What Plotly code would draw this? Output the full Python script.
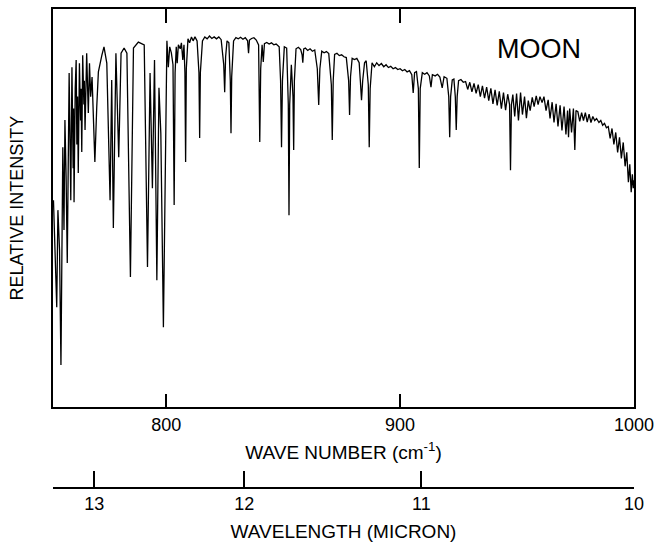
import plotly.graph_objects as go

# ---- Data (wavenumber in cm^-1, relative intensity 0-100) ----
WN_LOW = [751.8, 752.5, 753.2, 753.7, 754.4, 755.0, 755.8, 756.3, 756.7, 757.2, 757.7, 758.5,
          758.9, 759.2, 759.7, 760.2, 760.4, 760.6, 761.1, 761.5, 761.8, 762.1, 762.4, 762.9,
          763.4, 763.6, 763.9, 764.3, 764.8, 765.0, 765.3, 766.0, 766.4, 766.7, 767.2, 767.7,
          768.3, 769.5, 770.3, 771.0, 772.5, 773.4, 774.6, 776.0, 776.7,
          777.4, 778.5, 779.7, 780.7, 782.0, 783.2, 784.7, 786.0, 788.1, 790.6, 792.0, 793.1,
          794.1, 795.0, 796.0, 796.9, 797.7, 798.8]
INT_LOW = [52.0, 39.4, 25.1, 49.5, 39.4, 10.6, 65.3, 44.5, 72.1, 58.0, 36.2, 83.9,
           66.0, 52.0, 85.4, 60.0, 75.0, 51.5, 80.0, 87.2, 66.0, 78.0, 58.8, 86.4,
           72.0, 80.0, 64.1, 88.4, 76.0, 82.0, 69.6, 88.9, 80.0, 73.9, 86.4, 78.0,
           82.9, 61.6, 75.4, 84.2, 88.4, 90.5, 86.4, 52.0, 82.2,
           45.0, 88.9, 62.8, 88.9, 90.2, 88.9, 32.7, 90.2, 91.7, 91.0, 35.2, 83.9,
           55.0, 87.2, 31.9, 80.2, 68.8, 20.1]

WN_MID = [800.3, 800.9, 801.5, 802.2, 802.9, 803.4, 803.8, 804.3, 804.7, 805.2, 806.0, 806.5,
          807.1, 807.6, 808.0, 808.3, 808.6, 809.3, 810.0, 810.8, 811.5, 812.3, 813.2, 814.0,
          814.3, 814.6, 815.5, 816.5, 817.5, 818.5, 819.5, 820.5, 821.5, 822.5, 823.5, 824.6,
          825.0, 825.4, 826.0, 826.8, 827.4, 827.7, 828.0, 828.8, 829.8, 830.8, 831.8, 832.8,
          833.8, 834.8, 835.2, 835.6, 836.5, 837.5, 838.5, 839.5, 840.0, 840.4, 841.0, 841.5,
          842.0, 843.0, 844.0, 845.0, 846.0, 847.0, 848.3, 848.9, 849.3, 849.7, 850.5, 851.5,
          852.2, 852.5, 852.8, 853.5, 854.2, 854.5, 854.8, 855.5, 856.5, 857.5, 858.1, 858.4,
          858.8, 859.5, 860.5, 861.5, 862.5, 863.5, 864.6, 865.2, 865.7, 866.5, 867.5, 868.5,
          869.5, 870.6, 871.0, 871.4, 872.0, 873.0, 874.0, 875.0, 876.0, 877.0, 877.5, 878.0,
          878.4, 878.8, 879.5, 880.5, 881.5, 882.5, 883.0, 883.5, 884.0, 884.8, 885.5, 886.4,
          886.8, 887.2, 888.0, 889.0, 890.0, 891.0, 892.0, 893.0, 894.0, 895.0, 896.0, 897.0,
          898.0, 899.0]
INT_MID = [92.0, 85.4, 90.5, 89.0, 86.0, 50.8, 84.0, 90.5, 86.4, 91.0, 90.0, 91.5,
           87.2, 91.0, 84.0, 61.6, 85.0, 92.5, 91.5, 93.0, 92.0, 93.0, 92.0, 84.0,
           67.6, 84.0, 92.0, 93.0, 92.5, 93.2, 92.6, 93.0, 92.5, 93.0, 92.3, 86.0,
           79.1, 88.0, 92.0, 91.5, 82.0, 68.8, 83.0, 92.0, 92.8, 92.5, 92.9, 92.4,
           92.8, 92.0, 88.9, 92.2, 92.6, 92.8, 92.2, 91.0, 66.6, 85.0, 91.0, 86.7,
           91.3, 91.6, 91.2, 91.5, 91.0, 91.2, 90.5, 82.0, 65.3, 82.0, 90.5, 90.2,
           76.0, 48.2, 76.0, 86.0, 78.0, 64.6, 82.0, 90.0, 90.4, 89.8, 88.5, 86.5,
           90.0, 90.2, 89.6, 90.0, 89.4, 89.7, 85.0, 75.9, 85.0, 89.4, 89.0, 89.3,
           88.8, 81.0, 67.1, 82.0, 88.6, 88.9, 88.3, 88.5, 88.0, 87.8, 85.0, 82.0,
           73.4, 83.0, 87.6, 87.3, 87.6, 86.5, 82.0, 77.1, 82.0, 86.5, 87.0, 81.0,
           65.3, 80.0, 86.5, 85.5, 86.5, 85.8, 86.3, 85.5, 86.0, 85.3, 85.6, 85.0,
           85.3, 84.8]

WN_HIGH = [900.0, 901.0, 902.0, 903.0, 904.0, 905.0, 905.6, 906.2, 907.0, 907.8, 908.2, 908.6,
           909.5, 910.5, 911.5, 912.5, 913.2, 913.8, 915.0, 916.0, 917.0, 918.0, 918.8, 920.0,
           920.8, 921.2, 921.6, 922.3, 923.0, 923.6, 924.0, 924.4, 925.0, 926.0, 927.0,
           928.0, 928.9, 929.8, 930.7, 931.6, 932.5, 933.4, 934.3, 935.2, 936.1, 937.0, 937.9,
           938.8, 939.7, 940.6, 941.5, 942.4, 943.3, 944.2, 945.1, 946.0, 946.8, 947.2, 947.6,
           948.2, 949.0, 949.8, 950.6, 951.5, 952.3, 953.2, 954.0, 954.8, 955.6, 956.5, 957.3,
           958.2, 959.0, 959.8, 960.7, 961.5, 962.4, 963.3, 964.1, 965.0, 965.8, 966.7, 967.5,
           968.4, 969.2, 970.1, 970.9, 971.6, 972.0, 972.5, 973.3, 974.1, 974.7, 975.2,
           976.0, 976.8, 977.6, 978.4, 979.2, 980.0, 980.8, 981.6, 982.4, 983.2, 984.0, 985.0,
           985.8, 986.6, 987.4, 988.2, 989.0, 989.8, 990.6, 991.4, 992.2, 993.0, 993.8, 994.6,
           995.4, 996.2, 996.9, 997.6, 998.2, 998.8, 999.3, 999.7, 1000.0]
INT_HIGH = [85.0, 84.5, 84.8, 84.2, 84.5, 83.5, 78.9, 84.0, 84.3, 80.0, 60.1, 80.0,
            84.0, 83.6, 84.0, 83.2, 80.4, 83.5, 83.2, 83.6, 82.9, 80.2, 83.0, 82.6,
            78.0, 67.8, 78.0, 82.2, 82.4, 78.0, 69.6, 78.0, 82.0, 82.3, 81.6,
            81.8, 79.8, 81.6, 79.2, 81.3, 78.8, 81.0, 78.0, 80.7, 77.6, 80.4, 77.0,
            80.1, 76.2, 79.7, 75.8, 79.3, 75.0, 79.0, 74.6, 78.6, 76.0, 59.5, 76.0,
            78.5, 73.0, 78.8, 72.0, 79.0, 73.5, 78.0, 72.6, 77.0, 74.5, 77.8, 75.5,
            78.2, 76.0, 78.0, 76.5, 78.0, 74.5, 77.2, 72.5, 76.6, 71.5, 76.2, 70.5,
            75.8, 69.5, 75.5, 68.5, 74.5, 67.8, 75.0, 69.0, 75.0, 64.6, 74.5,
            74.2, 71.8, 74.0, 72.0, 74.0, 71.6, 73.6, 71.5, 73.0, 72.0, 72.5, 71.5,
            72.0, 70.8, 71.3, 70.2, 70.5, 67.5, 70.0, 66.0, 69.0, 64.0, 67.8, 62.5,
            66.5, 60.5, 64.0, 56.5, 61.0, 54.0, 58.5, 55.0, 57.0]

WN_TICKS = [800, 900, 1000]
WAVELENGTH_TICKS = [13, 12, 11, 10]   # micron
X_RANGE = [751.6, 1000.0]

wn = WN_LOW + WN_MID + WN_HIGH
inten = INT_LOW + INT_MID + INT_HIGH

FONT = "Liberation Sans, Arial, Helvetica, sans-serif"

fig = go.Figure()
fig.add_trace(go.Scatter(x=wn, y=inten, mode="lines",
                         line=dict(color="black", width=1.3),
                         showlegend=False, hoverinfo="skip"))
# invisible trace to carry the wavelength axis
fig.add_trace(go.Scatter(x=X_RANGE, y=[50, 50], xaxis="x2", mode="markers",
                         marker=dict(opacity=0), showlegend=False, hoverinfo="skip"))

fig.add_annotation(text="MOON", x=959.3, y=90.0, xref="x", yref="y",
                   xanchor="center", yanchor="middle", showarrow=False,
                   font=dict(family=FONT, size=27, color="black"))

fig.update_layout(
    width=655, height=542,
    margin=dict(l=53, r=21, t=9, b=54),
    paper_bgcolor="white", plot_bgcolor="white",
    font=dict(family=FONT, size=18, color="black"),
    xaxis=dict(range=X_RANGE, tickvals=WN_TICKS, ticktext=[str(v) for v in WN_TICKS],
               ticks="inside", ticklen=14, tickwidth=1.5, tickcolor="black",
               showline=True, linewidth=1.5, linecolor="black", mirror="ticks",
               showgrid=False, zeroline=False, anchor="y",
               title=dict(text="WAVE NUMBER (cm<sup>-1</sup>)", standoff=12,
                          font=dict(size=19)),
               automargin=False),
    xaxis2=dict(range=X_RANGE, overlaying="x", anchor="free", position=0, side="bottom",
                tickvals=[10000.0 / w for w in WAVELENGTH_TICKS],
                ticktext=[str(w) for w in WAVELENGTH_TICKS],
                ticks="inside", ticklen=16, tickwidth=1.5, tickcolor="black",
                showline=True, linewidth=1.5, linecolor="black",
                showgrid=False, zeroline=False,
                title=dict(text="WAVELENGTH (MICRON)", standoff=10, font=dict(size=19)),
                automargin=False),
    yaxis=dict(range=[0, 100], domain=[0.1685, 1], showticklabels=False, ticks="",
               showline=True, linewidth=1.5, linecolor="black", mirror=True,
               showgrid=False, zeroline=False,
               title=dict(text="RELATIVE INTENSITY", standoff=23, font=dict(size=18)),
               automargin=False),
)

fig.write_html("out.html",
               config={"displayModeBar": False},
               post_script="document.body.style.margin='0';"
                           "document.body.style.overflow='hidden';")
